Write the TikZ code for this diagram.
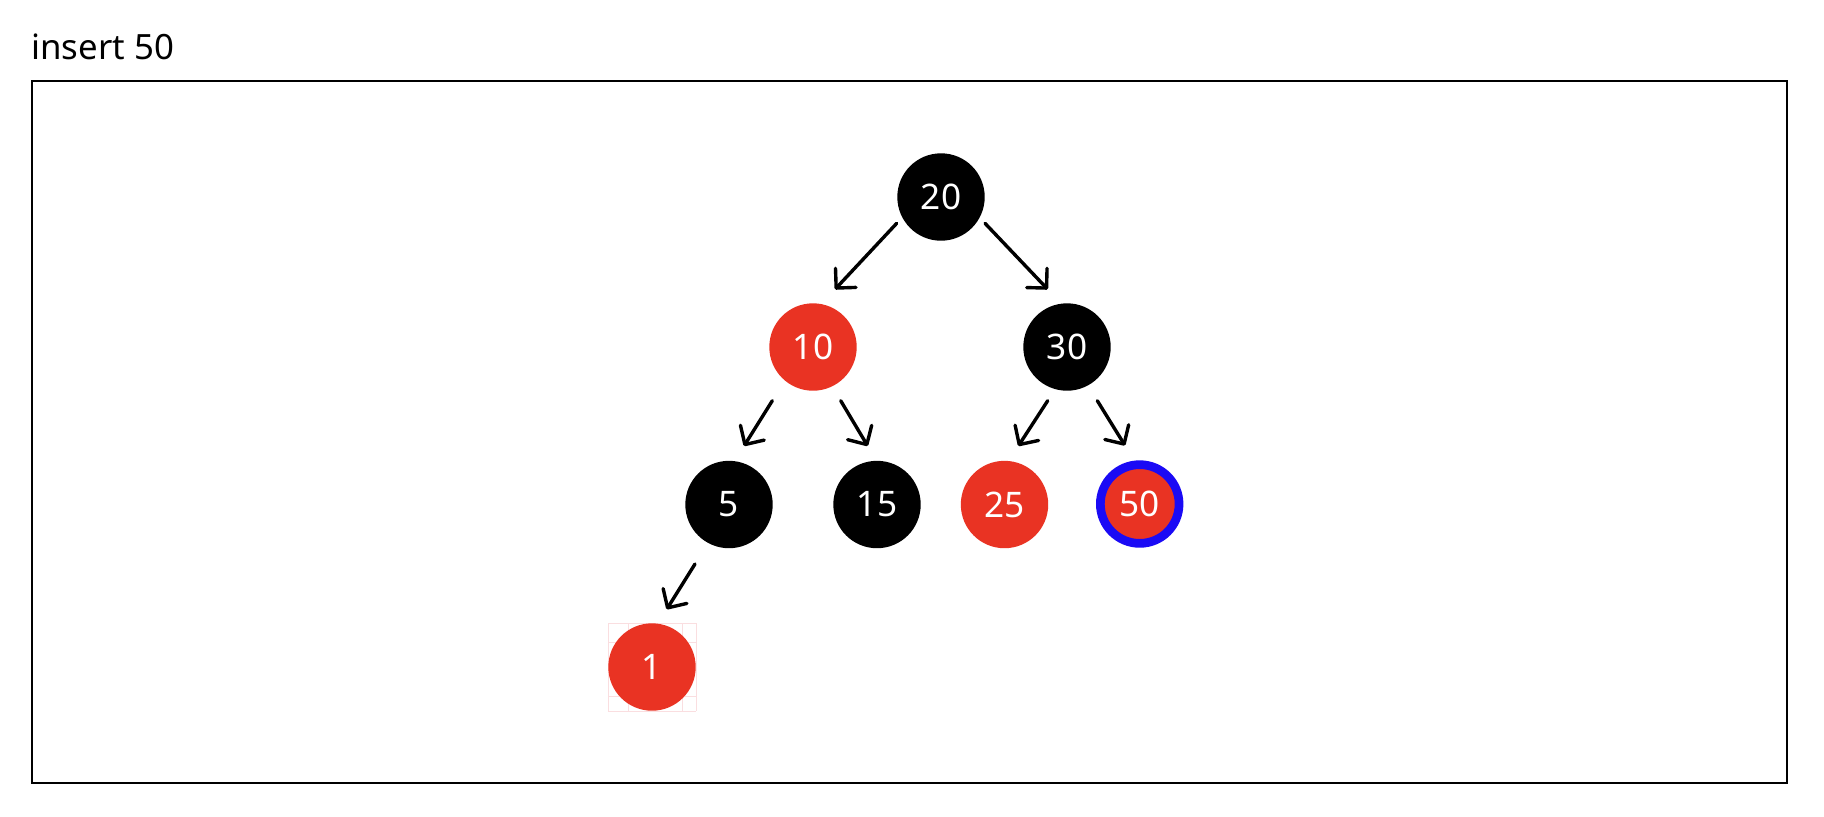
\documentclass[tikz,border=0pt]{standalone}
\usepackage{fontspec}
\setmainfont{Noto Sans}
\usetikzlibrary{arrows.meta,calc}
\definecolor{rbred}{RGB}{233,51,35}
\definecolor{selblue}{RGB}{26,10,245}
\definecolor{gridpink}{RGB}{250,222,224}
\begin{document}
\begin{tikzpicture}[x=0.5pt,y=-0.5pt,
  rbnode/.style={circle,inner sep=0pt,minimum size=43.7pt,text=white,font=\fontsize{17.6}{18}\selectfont},
  blacknode/.style={rbnode,fill=black},
  rednode/.style={rbnode,fill=rbred},
  selnode/.style={rbnode,fill=rbred,draw=selblue,line width=4.35pt,minimum size=39.35pt},
  link/.style={line width=1.7pt,line cap=round,-{Straight Barb[length=7pt,width=14pt,line cap=round,line join=round]}},
  frame/.style={draw=black,line width=1pt},
  helpgrid/.style={draw=gridpink,line width=0.5pt}]
\useasboundingbox (0,0) rectangle (1824,816);
\node[anchor=base west,inner sep=0pt,font=\fontsize{17.4}{18}\selectfont] (title) at (31,59) {insert 50};
\draw[frame] (32,81) rectangle (1787,782.5);
% faint helper grid around node 1
\foreach \gx in {608,628,682,696} \draw[helpgrid] (\gx,623) -- (\gx,711);
\foreach \gy in {623,642,696,711} \draw[helpgrid] (608,\gy) -- (696,\gy);
% nodes
\node[blacknode] (n20) at (941,197) {20};
\node[rednode]   (n10) at (813,347) {10};
\node[blacknode] (n30) at (1067,347) {30};
\node[blacknode] (n5)  at (729,504.5) {5};
\node[blacknode] (n15) at (877,504.5) {15};
\node[rednode]   (n25) at (1004.5,504.5) {25};
\node[selnode]   (n50) at (1139.7,504) {50};
\node[rednode]   (n1)  at (652,667) {1};
% links
\draw[link] ($(n20)+(-44.3,26.3)$) -- ($(n10)+(22,-57.7)$);
\draw[link] ($(n20)+(44,26.3)$) -- ($(n30)+(-19.3,-57.7)$);
\draw[link] ($(n10)+(-40.7,53.7)$) -- ($(n5)+(15,-58.5)$);
\draw[link] ($(n10)+(27.7,53.7)$) -- ($(n15)+(-9.3,-58.5)$);
\draw[link] ($(n30)+(-19.3,53.7)$) -- ($(n25)+(13.8,-58.5)$);
\draw[link] ($(n30)+(30.3,53.7)$) -- ($(n50)+(-14.7,-58.5)$);
\draw[link] ($(n5)+(-34,59.5)$) -- ($(n1)+(14.7,-57.7)$);
\end{tikzpicture}
\end{document}
